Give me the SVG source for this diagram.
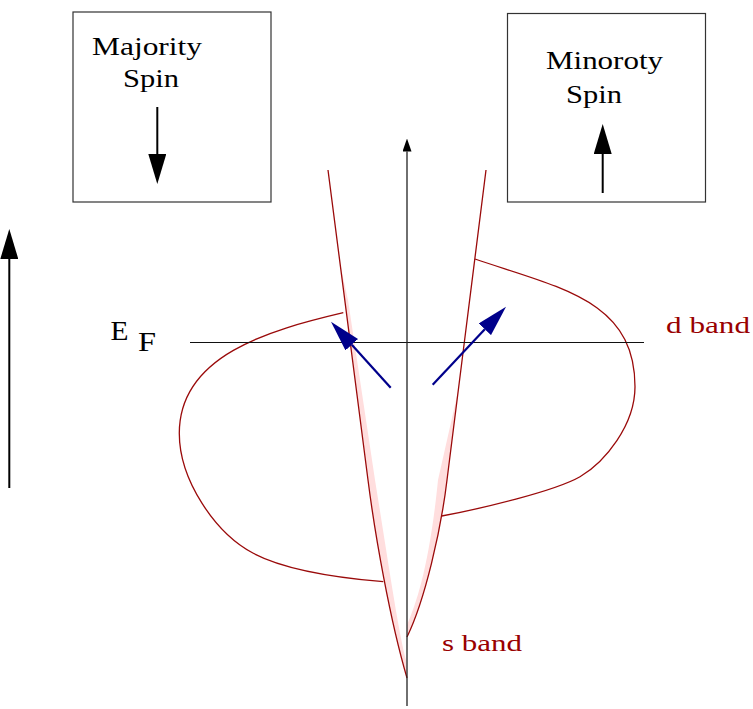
<svg xmlns="http://www.w3.org/2000/svg" width="753" height="709" viewBox="0 0 753 709">
<style>
.box{fill:none;stroke:#333;stroke-width:1.2}
.lbl{font-family:"Liberation Serif","Times New Roman",serif;font-size:26px;fill:#000}
.ef{font-family:"Liberation Serif","Times New Roman",serif;font-size:28px;fill:#000}
.band{font-family:"Liberation Serif","Times New Roman",serif;font-size:24px;fill:#990000}
.red{fill:none;stroke:#9a0a0a;stroke-width:1.3}
.pink{fill:#ffdede;stroke:none}
.blk{stroke:#000;stroke-width:2;fill:none}
.blue{stroke:#00008b;stroke-width:2.2;fill:none}
.ax{stroke:#222;stroke-width:1.3;fill:none}
</style>
<defs>
<marker id="ah" markerUnits="userSpaceOnUse" viewBox="0 0 30 18" markerWidth="30" markerHeight="18" refX="0" refY="9" orient="auto"><path d="M0,0 L30,9 L0,18 z" fill="#000"/></marker>
<marker id="bh" markerUnits="userSpaceOnUse" viewBox="0 0 31 17" markerWidth="31" markerHeight="17" refX="0" refY="8.5" orient="auto"><path d="M0,0 L31,8.5 L0,17 z" fill="#00008b"/></marker>
<marker id="axh" markerUnits="userSpaceOnUse" viewBox="0 0 13 9" markerWidth="13" markerHeight="9" refX="0" refY="4.5" orient="auto"><path d="M0,0 L13,4.5 L0,9 z" fill="#000"/></marker>
</defs>
<rect width="753" height="709" fill="#fff"/>

<g id="majority-box">
<rect class="box" x="73" y="12" width="198" height="190"/>
<text class="lbl" x="92" y="55" textLength="110" lengthAdjust="spacingAndGlyphs">Majority</text>
<text class="lbl" x="123" y="87" textLength="56" lengthAdjust="spacingAndGlyphs">Spin</text>
<line class="blk" x1="157.3" y1="107" x2="157.3" y2="154" marker-end="url(#ah)"/>
</g>

<g id="minority-box">
<rect class="box" x="507.5" y="13.5" width="198" height="188.5"/>
<text class="lbl" x="546" y="69" textLength="117" lengthAdjust="spacingAndGlyphs">Minoroty</text>
<text class="lbl" x="566" y="103" textLength="56" lengthAdjust="spacingAndGlyphs">Spin</text>
<line class="blk" x1="602.7" y1="193" x2="602.7" y2="154" marker-end="url(#ah)"/>
</g>

<g id="energy-arrow">
<line class="blk" x1="9.3" y1="488" x2="9.3" y2="259" marker-end="url(#ah)"/>
</g>

<g id="s-band">
<path class="pink" d="M340.3,265 L368,480 C375,535 390,620 407,678 L406,660 C398,630 388,560 375,480 L348,300 Z"/>
<path class="pink" d="M458.3,390 L447,480 C441,530 425,600 407,637 L407,625 C418,600 430,560 438,480 Z"/>
<path class="red" d="M328,170 L368,480 C375,535 390,620 407,678"/>
<path class="red" d="M486,170 L447,480 C441,530 425,600 407,637"/>
<text class="band" x="442" y="651" textLength="80" lengthAdjust="spacingAndGlyphs">s band</text>
</g>

<g id="d-band">
<path class="red" d="M343.3,312.7 C270,330 179.3,355 179.3,433.3 C179.3,480 215,533 253.3,553.3 C285,570 340,578 383.3,581.7"/>
<path class="red" d="M475,259 C560,288 635,300 635,386.7 C635,425 605,462 580,476.7 C555,491 480,509 441.7,516"/>
<text class="band" x="666" y="333" textLength="84" lengthAdjust="spacingAndGlyphs">d band</text>
</g>

<g id="fermi-level">
<line x1="190" y1="342.5" x2="644" y2="342.5" stroke="#111" stroke-width="1.2"/>
<text class="ef" x="110.5" y="340" textLength="18" lengthAdjust="spacingAndGlyphs">E</text>
<text class="ef" x="138" y="351" textLength="18" lengthAdjust="spacingAndGlyphs">F</text>
</g>

<g id="connectors">
<line class="ax" x1="407" y1="706" x2="407" y2="151.5" marker-end="url(#axh)"/>
<line class="blue" x1="390.7" y1="387.7" x2="351.8" y2="344.7" marker-end="url(#bh)"/>
<line class="blue" x1="432.7" y1="384.7" x2="484.8" y2="329.3" marker-end="url(#bh)"/>
</g>
</svg>
